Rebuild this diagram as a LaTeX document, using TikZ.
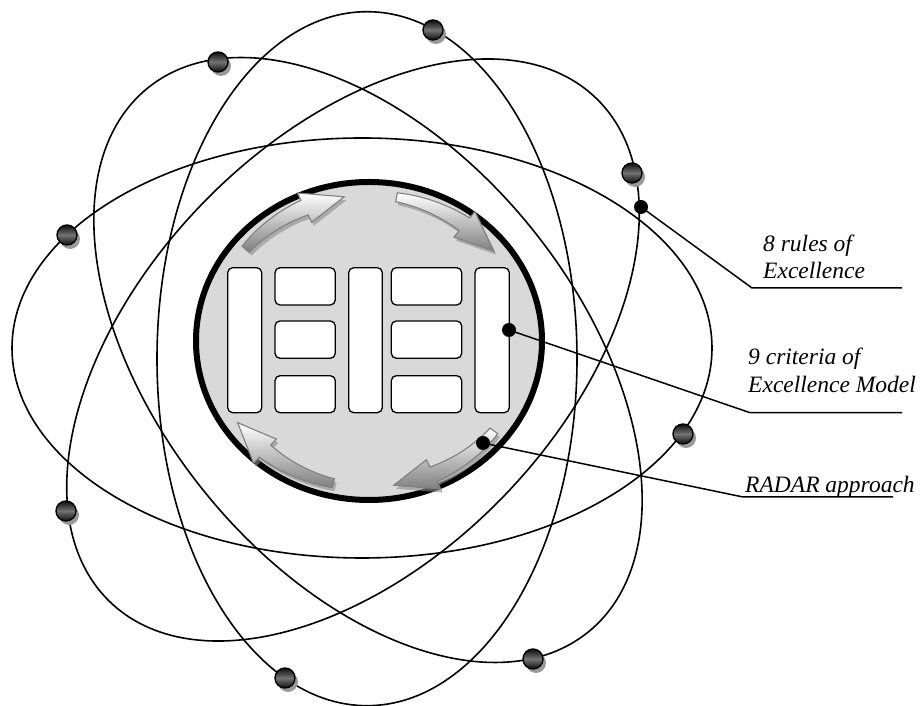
\documentclass[tikz,border=0pt]{standalone}
\usepackage{fontspec}
\setmainfont{Liberation Serif}
\newcommand{\radarrow}[2]{%
  plot[domain=#1:#2-15, samples=14] (\x:{146+4.5+3.5*(\x-(#1))/((#2)-15-(#1))})
  -- ({#2-15}:162) -- (#2:146) -- ({#2-15}:130)
  -- plot[domain=#2-15:#1, samples=14] (\x:{146-4.5-3.5*(\x-(#1))/((#2)-15-(#1))})
  -- cycle}
\tikzset{
  orbit/.style={line width=1.6pt, draw=black},
  cell/.style={fill=white, draw=black, line width=1.3pt, rounded corners=5pt},
  bead/.style={circle, minimum size=20pt, inner sep=0pt, draw=black, line width=1.4pt,
    top color=black!95, bottom color=black!95, middle color=black!55},
  beadshadow/.style={circle, minimum size=20pt, inner sep=0pt, fill=black!40},
  dot/.style={circle, minimum size=14pt, inner sep=0pt, fill=black},
  leader/.style={line width=1.5pt, draw=black},
  lbl/.style={inner sep=0pt, anchor=base west, font=\fontsize{23.5}{27}\selectfont\itshape},
  arrowbody/.style={draw=black!50, line width=1.1pt, top color=white, bottom color=black!50},
  arrowshadow/.style={fill=black!45, opacity=0.6}
}
\begin{document}
\begin{tikzpicture}[x=1pt,y=1pt]
\useasboundingbox (0,0) rectangle (921,706);
\begin{scope}[shift={(0,706)}, yscale=-1]
  % orbits
  \draw[orbit] (362,348) ellipse [x radius=350, y radius=210];
  \draw[orbit] (367,358.7) ellipse [x radius=210, y radius=347];
  \draw[orbit, rotate around={51:(368,360)}] (368,360) ellipse [x radius=350, y radius=210];
  \draw[orbit, rotate around={-46:(353,350)}] (353,350) ellipse [x radius=350, y radius=210];
  % nucleus
  \draw[line width=6pt, fill=gray!30] (369,341) ellipse [x radius=173, y radius=159];
  % RADAR arrows
  \begin{scope}[shift={(369,341)}, xscale=1.086]
    \foreach \a/\b in {219/261, 280/322, 38/81, 103/146} {
      \path[arrowshadow, shift={(2,3.5)}] \radarrow{\a}{\b};
      \path[arrowbody] \radarrow{\a}{\b};
    }
  \end{scope}
  % criteria cells
  \draw[cell] (227.7,267.7) rectangle (261.7,412.7);
  \draw[cell] (275,267.7) rectangle (335.3,305);
  \draw[cell] (275,321) rectangle (335.3,358.3);
  \draw[cell] (275,375.7) rectangle (335.3,412.7);
  \draw[cell] (348.7,267.7) rectangle (382.3,412.7);
  \draw[cell] (391.3,267.7) rectangle (461.7,305);
  \draw[cell] (391.3,321) rectangle (461.7,358.3);
  \draw[cell] (391.3,375.7) rectangle (461.7,412.7);
  \draw[cell] (475,267.7) rectangle (509.3,412.7);
  % electrons
  \foreach \px/\py [count=\i] in {433/30, 218/62, 632/173, 67/235, 683/434, 66/511, 533/659, 285/678} {
    \node[beadshadow] (s\i) at (\px+3,\py+4) {};
    \node[bead] (b\i) at (\px,\py) {};
  }
  % pointer dots and leaders
  \node[dot] (p1) at (641,207) {};
  \node[dot] (p2) at (509,330) {};
  \node[dot] (p3) at (483,443) {};
  \coordinate (k1) at (752,288);   \coordinate (e1) at (902,288);
  \coordinate (k2) at (750,412.7); \coordinate (e2) at (902,412.7);
  \coordinate (k3) at (743,497);   \coordinate (e3) at (893,497);
  \draw[leader] (p1.center) -- (k1) -- (e1);
  \draw[leader] (p2.center) -- (k2) -- (e2);
  \draw[leader] (p3.center) -- (k3) -- (e3);
  % labels
  \node[lbl] (t1a) at (763,251.7) {8 rules of};
  \node[lbl] (t1b) at (763,278.3) {Excellence};
  \node[lbl] (t2a) at (748,365) {9 criteria of};
  \node[lbl] (t2b) at (748,392.7) {Excellence Model};
  \node[lbl] (t3) at (745,493) {RADAR approach};
\end{scope}
\end{tikzpicture}
\end{document}
